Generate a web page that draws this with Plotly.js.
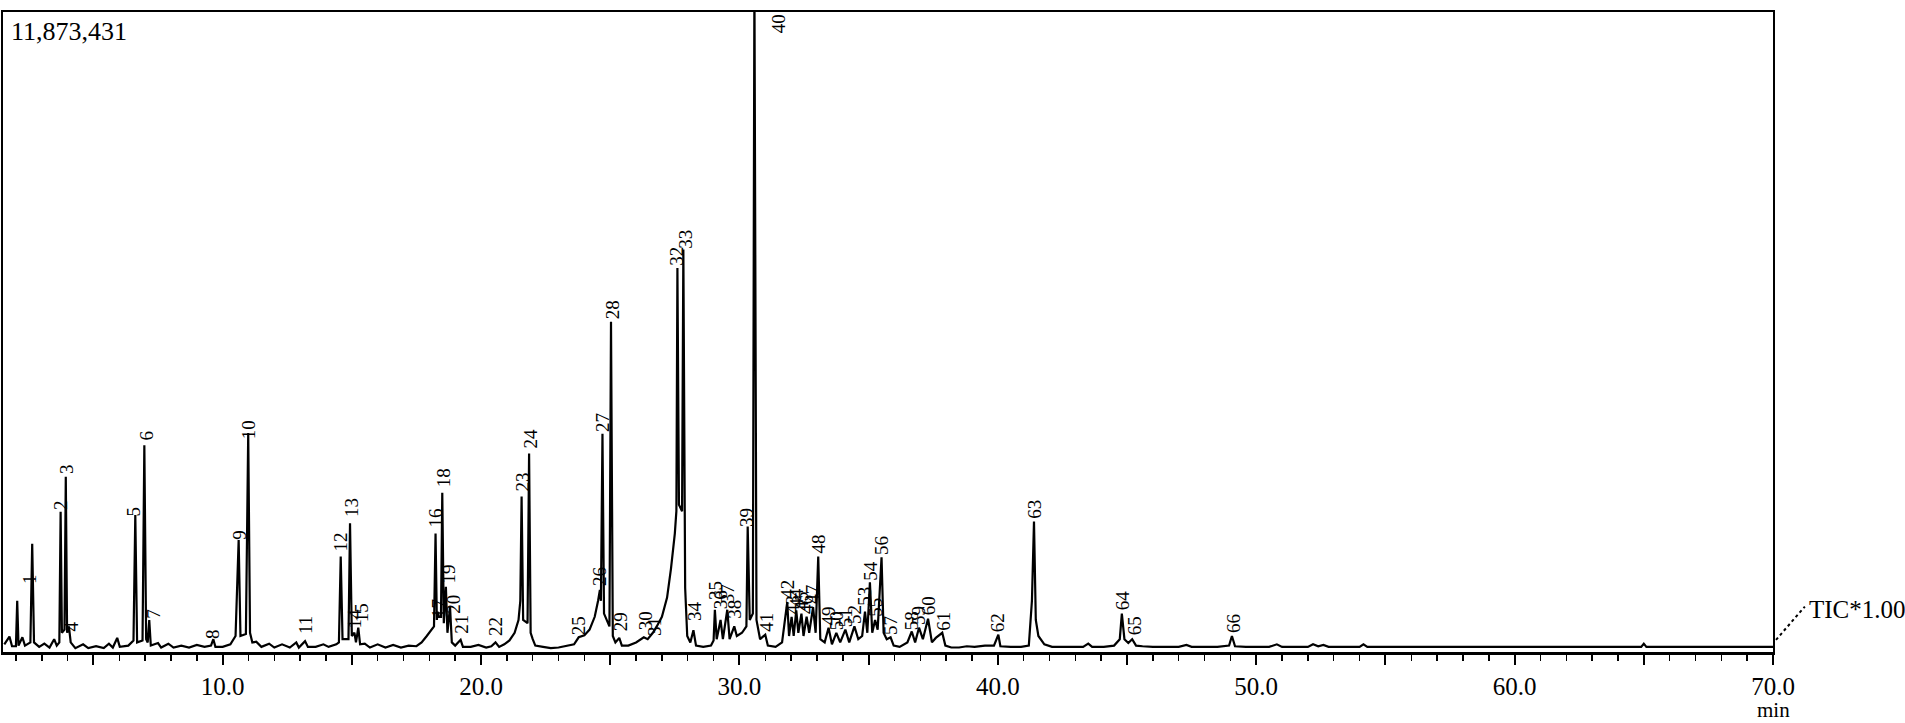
<!DOCTYPE html>
<html>
<head>
<meta charset="utf-8">
<script src="https://cdn.plot.ly/plotly-3.0.1.min.js"></script>
<style>
  html, body { margin: 0; padding: 0; background: #ffffff; }
  #chart { width: 1905px; height: 723px; }
</style>
</head>
<body>
<div id="chart"></div>
<script>
// GC-MS total ion chromatogram (TIC), intensity as % of full scale
const fullScaleText = '11,873,431';

// chromatogram vertices: [retention time (min), relative intensity (%)]
const ticEarly = [
    [1.55, 1.2], [1.75, 2.4], [1.85, 0.9], [2.0, 0.9], [2.05, 8.0], [2.1, 1.0], [2.25, 2.3], [2.35, 1.0],
    [2.56, 1.5], [2.63, 16.9], [2.7, 1.5], [2.9, 0.8], [3.1, 1.3], [3.3, 0.7], [3.48, 2.0], [3.58, 1.0],
    [3.68, 1.5], [3.73, 21.9], [3.78, 3.0], [3.88, 3.5], [3.93, 27.4], [3.98, 3.0], [4.05, 4.0], [4.12, 1.5],
    [4.3, 0.6], [4.6, 1.2], [4.8, 0.6], [5.1, 0.9], [5.4, 0.6], [5.6, 1.3], [5.75, 0.7], [5.92, 2.2],
    [6.02, 0.8], [6.35, 1.0], [6.55, 1.8], [6.62, 21.4], [6.69, 1.5], [6.9, 1.8], [6.97, 32.3], [7.04, 2.0],
    [7.1, 1.5], [7.16, 5.0], [7.22, 1.0], [7.5, 1.4], [7.62, 0.7], [7.9, 1.3], [8.1, 0.7], [8.4, 1.0],
    [8.7, 0.7], [9.0, 1.1], [9.3, 0.8], [9.55, 1.0], [9.64, 2.0], [9.72, 0.8], [10.0, 0.8], [10.3, 1.2],
    [10.5, 2.5], [10.62, 17.5], [10.69, 2.5], [10.9, 2.8], [10.99, 34.2], [11.06, 3.0], [11.15, 1.5], [11.3, 1.6],
    [11.5, 0.8], [11.8, 1.3], [12.0, 0.7], [12.3, 1.2], [12.6, 0.7], [12.85, 1.5], [12.95, 0.7], [13.19, 1.7],
    [13.3, 0.8], [13.6, 0.8], [13.9, 1.2], [14.1, 0.8], [14.4, 1.2], [14.5, 1.5], [14.57, 14.9], [14.64, 2.0],
    [14.87, 2.0], [14.93, 20.1], [15.0, 2.5]
];

const ticMid = [
    [15.1, 3.0], [15.16, 1.5], [15.25, 3.8], [15.32, 1.2], [15.5, 1.3], [15.7, 0.7], [16.0, 1.2], [16.3, 0.7],
    [16.6, 1.1], [16.9, 0.7], [17.2, 1.0], [17.5, 0.9], [17.7, 1.5], [17.9, 2.5], [18.05, 3.3], [18.18, 4.0],
    [18.24, 18.5], [18.29, 5.0], [18.32, 6.3], [18.37, 5.5], [18.45, 5.5], [18.5, 24.9], [18.56, 4.5], [18.64, 10.2],
    [18.7, 3.0], [18.8, 7.1], [18.87, 1.5], [19.0, 1.0], [19.21, 1.9], [19.3, 0.8], [19.6, 0.8], [19.9, 1.1],
    [20.2, 0.7], [20.4, 0.9], [20.56, 1.5], [20.7, 0.8], [20.9, 1.2], [21.1, 1.8], [21.3, 3.0], [21.45, 5.0],
    [21.52, 8.0], [21.57, 24.3], [21.63, 5.0], [21.8, 4.5], [21.86, 31.0], [21.92, 3.0], [22.0, 2.0], [22.1, 1.0],
    [22.4, 0.8], [22.7, 0.6], [23.0, 0.7], [23.3, 1.0], [23.6, 1.2], [23.78, 2.3], [24.0, 2.6], [24.2, 3.5],
    [24.4, 5.5], [24.53, 8.0], [24.6, 9.7], [24.64, 8.0], [24.7, 34.1], [24.76, 6.0], [24.97, 4.0], [25.03, 51.6],
    [25.1, 2.5], [25.2, 1.5], [25.35, 2.2], [25.45, 1.0], [25.7, 1.0], [26.0, 1.5], [26.3, 2.3], [26.45, 2.0],
    [26.65, 3.0], [26.8, 4.0], [27.0, 5.5], [27.2, 8.5], [27.35, 13.0], [27.5, 18.5], [27.56, 22.0], [27.6, 60.0],
    [27.66, 23.0], [27.78, 22.0], [27.83, 62.9], [27.9, 10.0], [27.98, 2.5], [28.1, 1.5], [28.22, 3.4], [28.32, 1.0],
    [28.6, 0.8], [28.9, 1.0], [29.0, 1.8], [29.05, 6.6], [29.12, 2.0], [29.27, 5.0], [29.36, 2.0], [29.53, 6.6],
    [29.62, 2.0], [29.8, 4.0], [29.9, 2.5]
];

const ticLate = [
    [30.1, 3.0], [30.27, 4.0], [30.32, 19.6], [30.4, 5.0], [30.52, 6.0], [30.58, 105], [30.66, 5.0], [30.8, 2.0],
    [31.0, 2.7], [31.1, 1.0], [31.4, 0.8], [31.65, 1.5], [31.85, 7.8], [31.92, 2.5], [32.02, 5.5], [32.1, 2.5],
    [32.2, 6.5], [32.28, 3.0], [32.4, 6.0], [32.48, 2.5], [32.6, 5.5], [32.7, 3.0], [32.85, 7.0], [32.95, 3.0],
    [33.05, 14.9], [33.13, 2.0], [33.3, 1.5], [33.45, 3.8], [33.58, 1.2], [33.75, 3.0], [33.9, 1.5], [34.1, 3.5],
    [34.25, 1.5], [34.45, 4.0], [34.6, 2.0], [34.75, 2.5], [34.86, 6.3], [34.95, 3.0], [35.05, 10.9], [35.14, 3.0],
    [35.25, 5.0], [35.35, 3.5], [35.5, 14.8], [35.58, 3.0], [35.7, 2.0], [35.85, 2.3], [35.97, 1.0], [36.2, 0.8],
    [36.5, 1.5], [36.67, 3.2], [36.8, 1.5], [36.95, 3.8], [37.1, 2.0], [37.3, 5.2], [37.45, 1.5], [37.6, 2.2],
    [37.85, 3.0], [37.97, 1.0], [38.2, 0.7], [38.5, 0.7], [38.8, 0.9], [39.1, 0.8], [39.5, 1.0], [39.85, 1.0],
    [40.02, 2.7], [40.1, 0.9], [40.5, 0.8], [40.9, 0.8], [41.2, 1.0], [41.32, 8.0], [41.4, 20.4], [41.47, 5.0],
    [41.57, 2.5], [41.8, 1.2], [42.1, 0.8]
];

const ticTail = [
    [42.6, 0.8], [43.0, 0.9], [43.3, 0.8], [43.5, 1.3], [43.65, 0.8], [44.1, 0.8], [44.5, 1.0], [44.72, 2.0],
    [44.8, 6.0], [44.9, 2.0], [45.05, 1.4], [45.2, 2.0], [45.35, 1.0], [45.6, 0.9], [46.0, 0.8], [46.5, 0.8],
    [47.0, 0.8], [47.3, 1.1], [47.5, 0.8], [48.0, 0.8], [48.5, 0.8], [48.95, 1.0], [49.06, 2.5], [49.18, 0.9],
    [49.6, 0.8], [50.5, 0.8], [50.8, 1.2], [51.0, 0.8], [52.0, 0.8], [52.2, 1.2], [52.4, 0.9], [52.6, 1.1],
    [52.8, 0.8], [54.0, 0.8], [54.15, 1.2], [54.3, 0.8], [58.0, 0.8], [64.9, 0.8], [65.0, 1.3], [65.1, 0.8],
    [70.0, 0.8]
];

// numbered peaks: label, retention time (min), label foot (%)
const peakNo = [1, 2, 3, 4, 5, 6, 7, 8, 9, 10, 11, 12, 13, 14, 15, 16, 17, 18, 19, 20, 21, 22,
    23, 24, 25, 26, 27, 28, 29, 30, 31, 32, 33, 34, 35, 36, 37, 38, 39, 40, 41, 42, 43, 44,
    45, 46, 47, 48, 49, 50, 51, 52, 53, 54, 55, 56, 57, 58, 59, 60, 61, 62, 63, 64, 65, 66];
const peakRt = [2.55, 3.7, 3.95, 4.16, 6.55, 7.04, 7.3, 9.63, 10.64, 11.0, 13.2, 14.55, 14.96, 15.12, 15.38, 18.24, 18.33, 18.55, 18.73, 18.93, 19.25, 20.54,
    21.62, 21.92, 23.76, 24.56, 24.7, 25.1, 25.38, 26.35, 26.69, 27.57, 27.9, 28.28, 29.1, 29.3, 29.55, 29.8, 30.28, 31.49, 31.05, 31.88, 32.03, 32.2,
    32.4, 32.6, 32.85, 33.05, 33.45, 33.75, 34.1, 34.45, 34.86, 35.06, 35.28, 35.5, 35.85, 36.67, 36.95, 37.3, 37.87, 40.02, 41.44, 44.83, 45.3, 49.12];
const labelAt = [10.5, 22.0, 27.7, 3.0, 21.1, 32.9, 5.0, 1.9, 17.4, 33.1, 2.7, 15.5, 21.0, 3.5, 4.5, 19.3, 5.2, 25.6, 10.5, 5.8, 2.7, 2.4,
    25.0, 31.6, 2.4, 10.2, 34.2, 51.9, 3.0, 3.2, 2.4, 60.2, 62.8, 4.7, 7.9, 6.5, 7.5, 5.0, 19.4, 96.6, 3.0, 8.1, 5.8, 6.8,
    6.3, 5.8, 7.3, 15.2, 4.0, 3.2, 3.7, 4.2, 7.0, 11.0, 5.4, 15.0, 2.5, 3.3, 4.0, 5.5, 3.2, 2.9, 20.6, 6.3, 2.5, 2.8];

const tickVals = [5, 10, 15, 20, 25, 30, 35, 40, 45, 50, 55, 60, 65, 70];
const tickText = ['', '10.0', '', '20.0', '', '30.0', '', '40.0', '', '50.0', '', '60.0', '', '70.0'];

const serif = 'Liberation Serif, Times New Roman, serif';
const ticPoints = [...ticEarly, ...ticMid, ...ticLate, ...ticTail];

const trace = {
    x: ticPoints.map(p => p[0]),
    y: ticPoints.map(p => p[1]),
    type: 'scatter',
    mode: 'lines',
    line: { color: '#000000', width: 2.2 },
    hoverinfo: 'skip'
};

const peakLabels = peakNo.map((n, i) => ({
    x: peakRt[i],
    y: labelAt[i],
    xref: 'x',
    yref: 'y',
    text: String(n),
    textangle: -90,
    showarrow: false,
    xanchor: 'center',
    yanchor: 'bottom',
    borderpad: 0,
    font: { family: serif, size: 19, color: '#000000' }
}));

const layout = {
    width: 1905,
    height: 723,
    margin: { l: 3, r: 132, t: 12, b: 71, pad: 0 },
    paper_bgcolor: '#ffffff',
    plot_bgcolor: '#ffffff',
    showlegend: false,
    font: { family: serif, color: '#000000' },
    xaxis: {
        range: [1.5, 70],
        showgrid: false,
        zeroline: false,
        showline: true,
        linecolor: '#000000',
        linewidth: 2.5,
        mirror: true,
        ticks: 'outside',
        tickvals: tickVals,
        ticktext: tickText,
        ticklen: 10,
        tickwidth: 2,
        tickcolor: '#000000',
        tickfont: { family: serif, size: 25, color: '#000000' },
        minor: { dtick: 1, ticks: 'outside', ticklen: 6, tickwidth: 1.5, tickcolor: '#000000', showgrid: false }
    },
    yaxis: {
        range: [0, 100],
        showgrid: false,
        zeroline: false,
        showline: true,
        linecolor: '#000000',
        linewidth: 2,
        mirror: true,
        ticks: '',
        showticklabels: false
    },
    annotations: [
        ...peakLabels,
        {
            x: 0, y: 1, xref: 'paper', yref: 'paper',
            xanchor: 'left', yanchor: 'top', xshift: 6, yshift: -3,
            text: fullScaleText, showarrow: false,
            font: { family: serif, size: 26, color: '#000000' }
        },
        {
            x: 1.0192, y: 0.067, xref: 'paper', yref: 'paper',
            xanchor: 'left', yanchor: 'middle',
            text: 'TIC*1.00', showarrow: false,
            font: { family: serif, size: 25, color: '#000000' }
        },
        {
            x: 1, y: -0.1109, xref: 'paper', yref: 'paper',
            xanchor: 'center', yanchor: 'bottom',
            text: 'min', showarrow: false, borderpad: 0,
            font: { family: serif, size: 21, color: '#000000' }
        }
    ],
    shapes: [{
        type: 'line', xref: 'paper', yref: 'paper',
        x0: 1.0017, y0: 0.019, x1: 1.018, y1: 0.071,
        line: { color: '#000000', width: 2, dash: 'dot' }
    }]
};

Plotly.newPlot('chart', [trace], layout, { displayModeBar: false, staticPlot: true });
</script>
</body>
</html>
